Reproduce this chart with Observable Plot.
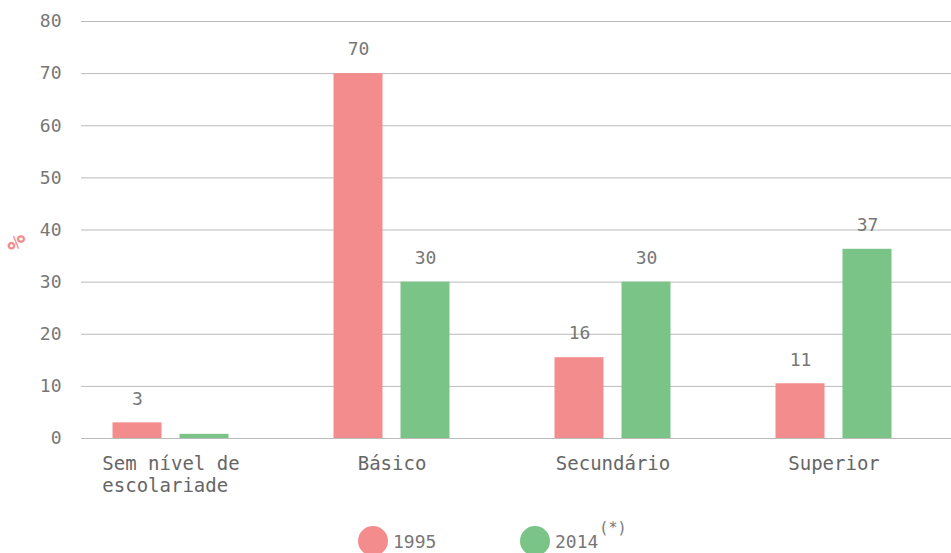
<!DOCTYPE html>
<html>
<head>
<meta charset="utf-8">
<script src="https://cdn.jsdelivr.net/npm/d3@7"></script>
<script src="https://cdn.jsdelivr.net/npm/@observablehq/plot@0.6"></script>
<style>
  body { margin: 0; background: #fff; font-family: "DejaVu Sans Mono", monospace; }
  #chart svg { display: block; }
  .legend { display: flex; align-items: center; margin-top: 21px; padding-left: 358px; color: #777; font-size: 18px; }
  .item { display: flex; align-items: center; }
  .dot { width: 30px; height: 30px; border-radius: 50%; margin-right: 5px; }
  sup { font-size: 15px; position: relative; top: -13px; margin-left: 1px; }
</style>
</head>
<body>
<div id="chart"></div>
<div class="legend" id="legend"></div>
<script>
const categories = ["Sem nível de\nescolariade\u00a0", "Básico", "Secundário", "Superior"];
const series = ["1995", "2014"];
const values1995 = [3, 70, 15.5, 10.5];
const values2014 = [0.8, 30, 30, 36.3];
const labels1995 = ["3", "70", "16", "11"];
const labels2014 = ["", "30", "30", "37"];
const yTicks = [0, 10, 20, 30, 40, 50, 60, 70, 80];
const colors = ["#f38c8c", "#79c486"];

const d1995 = categories.map((c, i) => ({cat: c, series: series[0], value: values1995[i], label: labels1995[i]}));
const d2014 = categories.map((c, i) => ({cat: c, series: series[1], value: values2014[i], label: labels2014[i]}));

const font = "DejaVu Sans Mono";
const textColor = "#777";

const chart = Plot.plot({
  width: 951,
  height: 505,
  marginTop: 21,
  marginBottom: 67,
  marginLeft: 81,
  marginRight: 0,
  style: {fontFamily: font, background: "#fff"},
  x: {domain: categories, range: [60, 944], padding: 0},
  y: {domain: [0, 80]},
  color: {domain: series, range: colors},
  marks: [
    Plot.ruleY(yTicks, {stroke: "#bbb", strokeWidth: 1}),
    Plot.barY(d1995, {x: "cat", y: "value", fill: "series", insetLeft: 86, insetRight: 86, dx: -33.5}),
    Plot.barY(d2014, {x: "cat", y: "value", fill: "series", insetLeft: 86, insetRight: 86, dx: 33.5}),
    Plot.text(d1995, {x: "cat", y: "value", text: "label", dx: -33.5, dy: -24, fill: textColor, fontSize: 18}),
    Plot.text(d2014, {x: "cat", y: "value", text: "label", dx: 33.5, dy: -24, fill: textColor, fontSize: 18}),
    Plot.axisY({ticks: yTicks, tickSize: 0, tickPadding: 20, fontSize: 18, color: textColor, label: null}),
    Plot.axisX({tickSize: 0, tickPadding: 15, fontSize: 19, lineHeight: 1.2, color: "#666", label: null}),
    Plot.text(["%"], {frameAnchor: "left", dx: -65, dy: 20, rotate: -90, fill: colors[0], fontSize: 25, fontWeight: "bold"})
  ]
});
document.getElementById("chart").appendChild(chart);

const legend = document.getElementById("legend");
series.forEach((s, i) => {
  const item = document.createElement("div");
  item.className = "item";
  if (i === 0) item.style.width = "162px";
  const dot = document.createElement("div");
  dot.className = "dot";
  dot.style.background = colors[i];
  const t = document.createElement("span");
  t.textContent = s;
  item.appendChild(dot);
  item.appendChild(t);
  if (i === 1) {
    const sp = document.createElement("sup");
    sp.textContent = "(*)";
    item.appendChild(sp);
  }
  legend.appendChild(item);
});
</script>
</body>
</html>
